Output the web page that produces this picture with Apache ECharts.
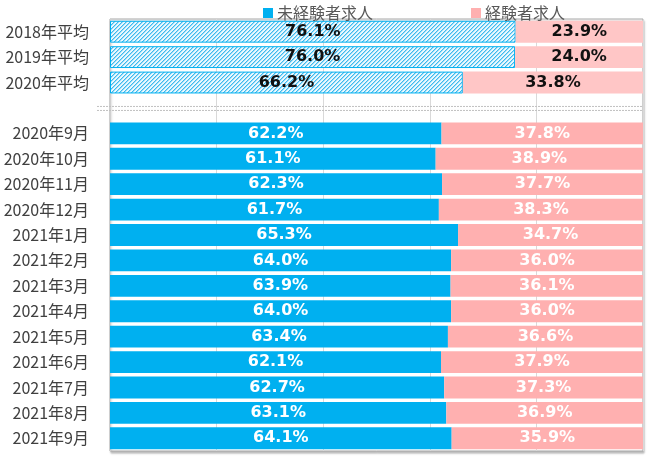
<!DOCTYPE html>
<html>
<head>
<meta charset="utf-8">
<script src="https://cdn.jsdelivr.net/npm/echarts@6/dist/echarts.min.js"></script>
<style>html,body{margin:0;padding:0;background:#fff}#c{width:650px;height:462px}</style>
</head>
<body>
<div id="c"></div>
<script>
var categories = ['2018年平均','2019年平均','2020年平均','','2020年9月','2020年10月','2020年11月','2020年12月','2021年1月','2021年2月','2021年3月','2021年4月','2021年5月','2021年6月','2021年7月','2021年8月','2021年9月'];
var inexperienced = [76.1, 76.0, 66.2, null, 62.2, 61.1, 62.3, 61.7, 65.3, 64.0, 63.9, 64.0, 63.4, 62.1, 62.7, 63.1, 64.1];
var experienced = [23.9, 24.0, 33.8, null, 37.8, 38.9, 37.7, 38.3, 34.7, 36.0, 36.1, 36.0, 36.6, 37.9, 37.3, 36.9, 35.9];
var averageCount = 3;
var gapIndex = 3;

var BLUE = '#00B0F0', PINK = '#FFB0B0', PINK_AVG = '#FFC6C6';

// hatch pattern (pixel-aligned diagonal stripes)
var tile = document.createElement('canvas');
tile.width = 4; tile.height = 4;
var g = tile.getContext('2d');
g.fillStyle = '#eaf8fe'; g.fillRect(0,0,4,4);
g.fillStyle = '#3dbaef';
for (var k = 0; k < 4; k++) { g.fillRect(3 - k, k, 1, 1); }
g.fillStyle = '#9fdcf6';
for (var k2 = 0; k2 < 4; k2++) { g.fillRect((4 - k2) % 4, k2, 1, 1); }
var hatch = {image: tile, repeat: 'repeat'};

var labelFont = {fontFamily: 'DejaVu Sans', fontWeight: 'bold', fontSize: 16};
function fmt(p){ return p.value == null ? '' : p.value.toFixed(1) + '%'; }

var blueData = inexperienced.map(function(v, i){
  if (i < averageCount) return {value: v, itemStyle: {color: hatch, borderColor: BLUE, borderWidth: 1}, label: {color: '#111'}};
  return {value: v};
});
var pinkData = experienced.map(function(v, i){
  if (i < averageCount) return {value: v, itemStyle: {color: PINK_AVG}, label: {color: '#111'}};
  return {value: v};
});

var chart = echarts.init(document.getElementById('c'));
chart.setOption({
  animation: false,
  textStyle: {fontFamily: 'Noto Sans CJK JP'},
  legend: {
    top: 0, left: 258, itemGap: 98, itemWidth: 10, itemHeight: 10, icon: 'rect',
    textStyle: {color: '#595959', fontSize: 16, fontFamily: 'Noto Sans CJK JP', padding: [0,0,0,-1]},
    data: ['未経験者求人', '経験者求人']
  },
  grid: {left: 110, right: 7, top: 19, bottom: 11, show: true, borderColor: '#a6a6a6', borderWidth: 1, backgroundColor: '#fff',
    shadowColor: 'rgba(0,0,0,0.25)', shadowBlur: 2, shadowOffsetX: 1, shadowOffsetY: 2},
  xAxis: {type: 'value', min: 0, max: 100, interval: 20, axisLabel: {show: false}, axisLine: {show: false}, axisTick: {show: false},
    splitLine: {lineStyle: {color: '#d9d9d9'}}},
  yAxis: {type: 'category', inverse: true, data: categories,
    axisLine: {show: true, lineStyle: {color: '#d0d0d0'}}, axisTick: {show: false},
    axisLabel: {color: '#404040', fontSize: 16, margin: 21, fontFamily: 'Noto Sans CJK JP'}},
  series: [
    {name: '未経験者求人', type: 'bar', stack: 't', data: blueData, barCategoryGap: '14%', itemStyle: {color: BLUE},
      label: Object.assign({show: true, position: 'inside', color: '#fff', formatter: fmt}, labelFont)},
    {name: '経験者求人', type: 'bar', stack: 't', data: pinkData, itemStyle: {color: PINK},
      label: Object.assign({show: true, position: 'inside', color: '#fff', formatter: fmt}, labelFont)},
    {type: 'custom', silent: true, clip: false, data: [[0, gapIndex]],
      renderItem: function(params, api){
        var a = api.coord([0, api.value(1)]);
        var b = api.coord([100, api.value(1)]);
        var st = {stroke: '#c0c0c0', lineWidth: 1, lineDash: [2, 1]};
        return {type: 'group', children: [
          {type: 'line', shape: {x1: a[0] - 13, y1: a[1] - 1.5, x2: b[0], y2: a[1] - 1.5}, style: st},
          {type: 'line', shape: {x1: a[0] - 13, y1: a[1] + 2.5, x2: b[0], y2: a[1] + 2.5}, style: st}
        ]};
      }}
  ]
});
</script>
</body>
</html>
